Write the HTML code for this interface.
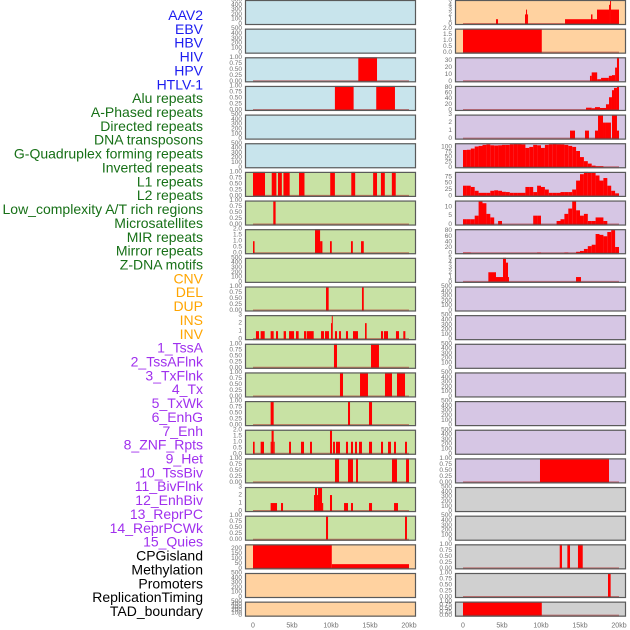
<!DOCTYPE html>
<html><head><meta charset="utf-8"><style>
html,body{margin:0;padding:0;background:#fff;}
svg{display:block;font-family:"Liberation Sans",sans-serif;}
</style></head><body>
<svg id="chart" width="630" height="630" viewBox="0 0 630 630"></svg>
<script>
// ---- data ----
const trackNames = ["AAV2","EBV","HBV","HIV","HPV","HTLV-1","Alu repeats","A-Phased repeats","Directed repeats","DNA transposons","G-Quadruplex forming repeats","Inverted repeats","L1 repeats","L2 repeats","Low_complexity A/T rich regions","Microsatellites","MIR repeats","Mirror repeats","Z-DNA motifs","CNV","DEL","DUP","INS","INV","1_TssA","2_TssAFlnk","3_TxFlnk","4_Tx","5_TxWk","6_EnhG","7_Enh","8_ZNF_Rpts","9_Het","10_TssBiv","11_BivFlnk","12_EnhBiv","13_ReprPC","14_ReprPCWk","15_Quies","CPGisland","Methylation","Promoters","ReplicationTiming","TAD_boundary"];
const trackGroups = ["virus","virus","virus","virus","virus","virus","repeat","repeat","repeat","repeat","repeat","repeat","repeat","repeat","repeat","repeat","repeat","repeat","repeat","sv","sv","sv","sv","sv","hmm","hmm","hmm","hmm","hmm","hmm","hmm","hmm","hmm","hmm","hmm","hmm","hmm","hmm","hmm","other","other","other","other","other"];
const xTickValues = [0,5,10,15,20];
const xTickLabels = ["0","5kb","10kb","15kb","20kb"];

// interval data [startKb, endKb, value]
const hbv = [[13.5,15.9,1]];
const hiv = [[10.5,12.9,1],[15.8,18.2,1]];
const alu = [[0,1.54,1],[2.4,3.0,1],[3.2,3.7,1],[3.9,4.7,1],[5.9,6.6,1],[9.9,10.5,1],[12.6,13.1,1],[15.4,15.9,1],[16.4,16.9,1],[17.8,18.3,1]];
const aPhased = [[2.6,2.9,1]];
const directed = [[0,0.2,1],[7.95,8.6,2],[8.6,8.9,1],[9.87,10.1,1],[12.56,12.8,1],[13.85,14.2,1]];
const gQuad = [[9.36,9.7,1],[13.97,14.2,1]];
const inverted = [[0.38,0.77,1],[0.98,1.5,1],[2.26,2.65,1],[2.95,3.21,1],[3.93,4.23,1],[4.62,5.26,1],[5.51,5.85,1],[6.54,6.84,1],[6.92,7.78,1],[8.72,9.1,1],[9.23,9.74,1],[10.0,10.1,2],[10.1,10.21,3],[10.51,10.77,1],[11.03,11.28,1],[11.92,12.18,1],[12.82,13.46,1],[14.36,14.57,2],[16.41,16.67,1],[16.79,17.31,1],[18.33,18.72,1],[19.27,19.53,1]];
const l1 = [[10.38,10.77,1],[15.13,16.15,1]];
const l2 = [[11.15,11.54,1],[13.72,14.74,1],[16.92,17.82,1],[18.46,19.49,1]];
const lowComplexity = [[2.26,2.65,1],[12.18,12.44,1],[14.87,15.26,1]];
const microsat = [[0,0.21,1],[0.98,1.41,1],[2.26,2.38,1],[2.38,2.65,2],[2.65,2.78,1],[4.62,4.87,1],[6.15,6.54,1],[7.31,7.56,1],[9.87,10.13,2],[10.26,10.51,1],[10.64,11.15,1],[11.92,12.18,1],[12.56,12.82,1],[13.08,13.33,1],[13.59,13.97,1],[14.87,15.26,1],[16.41,16.67,1],[17.31,17.69,1],[18.08,18.33,1],[19.49,19.74,1]];
const mir = [[10.51,11.03,1],[12.18,12.82,1],[13.21,13.46,1],[17.82,18.46,1],[19.62,20.0,1]];
const mirror = [[2.26,3.08,1],[3.59,3.85,1],[7.82,7.95,2],[7.95,8.21,3],[8.21,8.33,2],[8.33,8.85,3],[8.85,9.0,1],[9.87,10.13,2],[11.67,12.18,1],[12.56,12.82,1],[14.87,15.26,1],[18.08,18.59,1]];
const zdna = [[9.36,9.62,1],[19.49,19.74,1]];
const cnv = [[0,10.1,236],[10.1,20.0,42]];
const ins = [[4.23,4.49,1],[7.95,8.08,2],[8.08,8.21,3],[8.21,8.33,2],[13.08,16.41,1],[16.41,16.6,2],[16.6,17.18,1],[17.18,18.72,3],[18.72,18.85,4],[18.85,18.97,5],[18.97,20.0,3]];
const inv = [[0,10.1,2]];
const tssA = [[16.28,16.5,8],[16.5,17.2,13],[17.2,17.7,3],[17.7,18.7,5],[18.7,19.1,8],[19.1,19.5,9],[19.5,19.74,20],[19.74,20.0,35]];
const tssAFlnk = [[15.77,16.5,8],[16.5,16.92,6],[16.92,17.56,10],[17.56,18.33,7],[18.33,18.72,20],[18.72,19.1,45],[19.1,19.36,70],[19.36,19.74,78],[19.74,20.0,85]];
const txFlnk = [[13.72,14.36,1],[15.64,16.15,1],[16.92,17.31,1],[17.31,17.95,3],[17.95,18.33,2],[18.33,18.97,2],[19.1,19.74,3],[19.74,20.0,1]];
const znfRpts = [[3.25,4.23,2],[4.23,5.13,1],[5.13,5.51,5],[5.51,5.77,4],[5.77,5.9,1],[14.49,15.13,1]];
const quies = [[9.87,18.72,1]];
const promoters = [[12.4,12.69,1],[13.38,13.72,1],[14.74,15.35,1]];
const replTiming = [[18.59,18.93,1]];
const tadBoundary = [[0,10.1,1]];

// binned data: 40 bins of 0.5kb
const txBins = [85,86,92,102,105,110,112,108,107,108,110,110,113,115,115,112,95,100,110,108,95,110,113,115,113,112,110,105,100,80,50,30,18,8,5,5,0,0,0,0];
const txWkBins = [40,40,35,20,12,12,12,20,22,20,16,15,12,12,12,12,35,35,15,40,35,25,12,12,12,15,15,15,25,60,85,94,90,90,80,60,70,40,20,10];
const enhGBins = [3,3,3,5,13,12,6,4,0,2,0,0,0,0,0,0,0,0,5,5,0,0,0,0,2,3,6,9,13,8,5,6,2,2,4,4,2,0,0,0];
const enhBins = [2,2,0,0,0,0,0,0,0,0,0,0,0,0,0,0,0,0,0,2,0,0,0,0,0,0,2,0,0,5,8,15,25,30,68,65,60,75,82,22];

// y tick labels
const ticksEmpty = ["0","100","200","300","400","500"];
const ticksUnit = ["0.00","0.25","0.50","0.75","1.00"];
const ticksTwo = ["0.0","0.5","1.0","1.5","2.0"];
const ticksThree = ["0","1","2","3"];
const ticksFive = ["0","1","2","3","4","5"];
const ticksCnv = ["0","50","100","150","200"];
const ticksTssA = ["0","10","20","30"];
const ticksEighty = ["0","20","40","60","80"];
const ticksTx = ["0","25","50","75","100"];
const ticksTxWk = ["0","25","50","75"];
const ticksEnhG = ["0","5","10"];

const trackData = [null,null,hbv,hiv,null,null,alu,aPhased,directed,null,gQuad,inverted,l1,l2,lowComplexity,microsat,mir,mirror,zdna,cnv,null,null,
  ins,inv,tssA,tssAFlnk,txFlnk,null,null,null,null,znfRpts,null,null,null,null,null,null,quies,null,null,promoters,replTiming,tadBoundary];
const trackBins = {27:txBins,28:txWkBins,29:enhGBins,30:enhBins};
const trackYMax = [500,500,1,1,500,500,1,1,2,500,1,3,1,1,1,2,1,3,1,240,500,500,
  5,2,35,85,3,118,94,13.5,85,5,500,500,500,500,500,500,1,500,500,1,1,1];
const trackTicks = [ticksEmpty,ticksEmpty,ticksUnit,ticksUnit,ticksEmpty,ticksEmpty,ticksUnit,ticksUnit,ticksTwo,ticksEmpty,ticksUnit,ticksThree,ticksUnit,ticksUnit,ticksUnit,ticksTwo,ticksUnit,ticksThree,ticksUnit,ticksCnv,ticksEmpty,ticksEmpty,
  ticksFive,ticksTwo,ticksTssA,ticksEighty,ticksThree,ticksTx,ticksTxWk,ticksEnhG,ticksEighty,ticksFive,ticksEmpty,ticksEmpty,ticksEmpty,ticksEmpty,ticksEmpty,ticksEmpty,ticksUnit,ticksEmpty,ticksEmpty,ticksUnit,ticksUnit,ticksUnit];

// ---- styles ----
const groupLabelColor = {virus:"#1c1cf0",repeat:"#177017",sv:"#ffa500",hmm:"#a030ee",other:"#000000"};
const groupFill = {virus:"#c8e4ec",repeat:"#c8e2a4",sv:"#ffd2a0",hmm:"#d6c6e4",other:"#d0d0d0"};
const NS = "http://www.w3.org/2000/svg";
const svg = document.getElementById("chart");
const colX = [245,455];
const panelW = 171;
const pxPerKb = 7.8;
const rowPitch = 28.65;
function mk(tag, attrs, parent){const e=document.createElementNS(NS,tag);for(const k in attrs)e.setAttribute(k,attrs[k]);(parent||svg).appendChild(e);return e;}
function slug(s){return s.toLowerCase().replace(/[^a-z0-9]+/g,"-").replace(/^-|-$/g,"");}

trackNames.forEach((name,i)=>{
  const t = mk("text",{x:203,y:(15+i*13.86).toFixed(2),"text-anchor":"end","dominant-baseline":"central","font-size":"14",fill:groupLabelColor[trackGroups[i]]});
  
  
  t.textContent = name;
});

trackNames.forEach((name,i)=>{
  const col = i<22?0:1, row = i%22;
  const x0 = colX[col], plotX0 = x0+8;
  const top = row*rowPitch, h = row===21?15:25, bottom = top+h;
  const ymax = trackYMax[i];
  const xs = kb=>plotX0+kb*pxPerKb;
  const ys = v=>bottom-1-(v/ymax)*(h-1);
  const g = mk("g",{});
  
  
  const bg = mk("rect",{x:x0,y:top,width:panelW,height:h,fill:groupFill[trackGroups[i]]},g);
  
  
  let intervals = trackData[i];
  if(trackBins[i]) intervals = trackBins[i].map((v,b)=>[b*0.5,(b+1)*0.5,v]);
  if(intervals){
    intervals.forEach(d=>{
      if(d[2]<=0) return;
      const r = mk("rect",{x:xs(d[0]).toFixed(2),y:ys(d[2]).toFixed(2),width:Math.max(1,(d[1]-d[0])*pxPerKb).toFixed(2),height:(ys(0)-ys(d[2])).toFixed(2),fill:"#ff0000"},g);
      
      
    });
    const bl = mk("line",{x1:xs(0),x2:xs(20),y1:ys(0),y2:ys(0),stroke:"rgba(170,30,30,0.55)","stroke-width":2},g);
    
    
  }
  const br = mk("rect",{x:x0+0.5,y:top+0.5,width:panelW-1,height:h-1,fill:"none",stroke:"#5a5a5a","stroke-width":1.2},g);
  
  
  trackTicks[i].forEach(lbl=>{
    const v = parseFloat(lbl);
    const tt = mk("text",{x:x0-3,y:ys(v).toFixed(2),"text-anchor":"end","dominant-baseline":"central","font-size":"6.5",fill:"#707070"},g);
    
    
    tt.textContent = lbl;
  });
});

colX.forEach((x0,c)=>{
  xTickValues.forEach((v,k)=>{
    const t = mk("text",{x:x0+8+v*pxPerKb,y:626,"text-anchor":"middle","dominant-baseline":"central","font-size":"7",fill:"#707070"});
    
    
    t.textContent = xTickLabels[k];
  });
});
</script>
</body></html>
